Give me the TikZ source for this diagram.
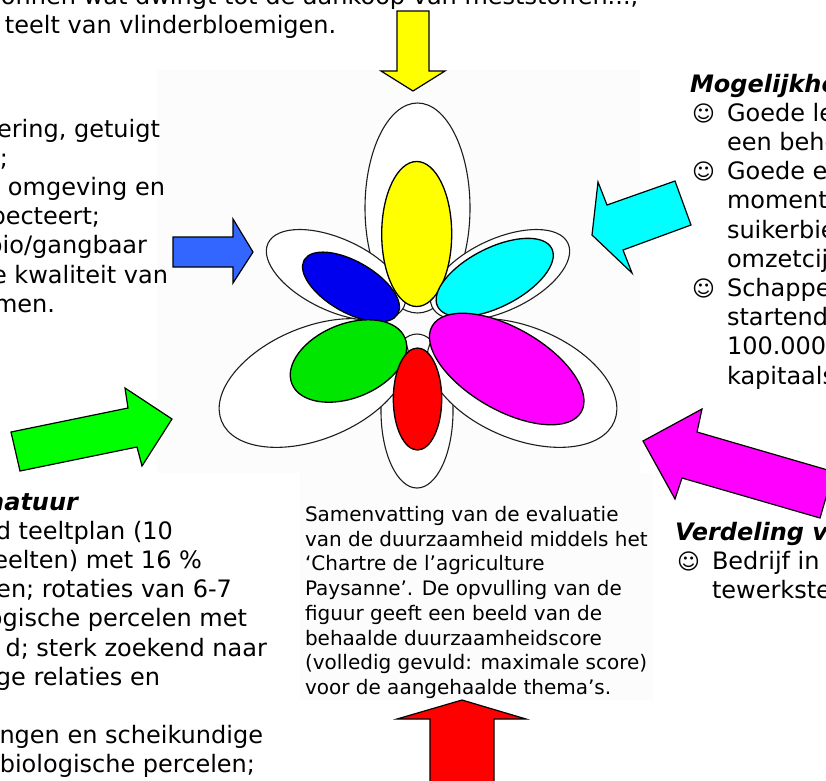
\documentclass[tikz,border=0pt]{standalone}
\usepackage{fontspec}
\setmainfont{DejaVu Sans}
\definecolor{bluearrow}{RGB}{51,102,255}
\definecolor{bluepetal}{RGB}{0,0,238}
\definecolor{greenpetal}{RGB}{0,230,0}
\definecolor{greenarrow}{RGB}{0,255,0}
\definecolor{yellowp}{RGB}{255,255,0}
\definecolor{cyanp}{RGB}{0,255,255}
\definecolor{magentap}{RGB}{255,0,255}
\definecolor{redp}{RGB}{255,0,0}
\definecolor{faint}{RGB}{252,252,252}
\definecolor{outline}{RGB}{30,30,30}
\begin{document}
\begin{tikzpicture}[x=1pt,y=-1pt,
  outer/.style={draw=outline,line width=1.1pt,fill=white},
  petal/.style={draw=black,line width=1.3pt},
  blockarrow/.style={draw=black,line width=1.2pt,line join=miter},
  txt/.style={inner sep=0pt,outer sep=0pt,font=\fontsize{24}{29.2}\selectfont},
  headtxt/.style={inner sep=0pt,outer sep=0pt,font=\fontsize{24}{29.2}\selectfont\bfseries\itshape},
  captxt/.style={inner sep=0pt,outer sep=0pt,font=\fontsize{20}{24.7}\selectfont},
  smile/.style={inner sep=0pt,outer sep=0pt,font=\fontsize{22}{24}\selectfont}]
\useasboundingbox (0,0) rectangle (826,780);
\clip (0,0) rectangle (826,780);
\fill[white] (0,0) rectangle (826,780);
% faint picture backgrounds
\fill[faint] (157,70) rectangle (640,473);
\fill[faint] (300,473) rectangle (653,700);

% outer (maximum) petals
\draw[outer] (417.5,208) ellipse [x radius=52.5, y radius=105];
\draw[outer] (417,411) ellipse [x radius=36, y radius=77];
\draw[outer, rotate around={22.5:(314,383)}] (314,383) ellipse [x radius=100, y radius=56];
\draw[outer, rotate around={-22.5:(522,383)}] (522,383) ellipse [x radius=100, y radius=56];
\draw[outer, rotate around={-25:(336,275)}] (336,275) ellipse [x radius=75, y radius=36];
\draw[outer, rotate around={25:(500,275)}] (500,275) ellipse [x radius=75, y radius=36];

% filled (achieved) petals
\draw[petal, fill=yellowp] (416.7,234) ellipse [x radius=35, y radius=72.5];
\draw[petal, fill=bluepetal, rotate around={-30:(351,287)}] (351,287) ellipse [x radius=54, y radius=25.5];
\draw[petal, fill=cyanp, rotate around={27:(494.7,277.5)}] (494.7,277.5) ellipse [x radius=64, y radius=29.5];
\draw[petal, fill=greenpetal, rotate around={22:(348.5,361)}] (348.5,361) ellipse [x radius=61, y radius=37];
\draw[petal, fill=magentap, rotate around={-30:(506.7,369)}] (506.7,369) ellipse [x radius=86, y radius=41];
\draw[petal, fill=redp] (417.5,399) ellipse [x radius=24.2, y radius=51];

% block arrows
\draw[blockarrow, fill=yellowp] (397,11) -- (397,71) -- (381,71) -- (413,91) -- (445,71) -- (429,71) -- (429,11) -- cycle;
\draw[blockarrow, fill=redp] (430,790) -- (430,719) -- (397,719) -- (462,700) -- (526,719) -- (494,719) -- (494,790) -- cycle;
\draw[blockarrow, fill=bluearrow] (173,237) -- (233,237) -- (233,219) -- (253,252) -- (233,283) -- (233,267) -- (173,267) -- cycle;
\draw[blockarrow, fill=cyanp] (592,235) -- (598,182) -- (607,205) -- (675,181) -- (691,225) -- (623,250) -- (632,273) -- cycle;
\draw[blockarrow, fill=magentap] (643,441) -- (702,409) -- (697,432) -- (833.5,471.7) -- (820,518) -- (682,478) -- (675,499) -- cycle;
\draw[blockarrow, fill=greenarrow] (11,432) -- (128,408) -- (125,388) -- (172,419) -- (142,466) -- (137,447) -- (20,471) -- cycle;

% top-left text
\node[txt, anchor=base west] (t1) at (1,4) {onnen wat dwingt tot de aankoop van meststoffen...;};
\node[txt, anchor=base west] (t2) at (5,33) {teelt van vlinderbloemigen.};

% left text (cut)
\node[txt, anchor=base east] (l1) at (160,137) {ering, getuigt};
\node[txt, anchor=base east] (l2) at (8,166.2) {;};
\node[txt, anchor=base east] (l3) at (165,195.4) {de omgeving en};
\node[txt, anchor=base east] (l4) at (100,224.6) {respecteert;};
\node[txt, anchor=base east] (l5) at (147,253.8) {bio/gangbaar};
\node[txt, anchor=base east] (l6) at (168,283) {de kwaliteit van};
\node[txt, anchor=base east] (l7) at (55,312.2) {men.};

% bottom-left text (cut)
\node[headtxt, anchor=base east] (b0) at (78,510) {natuur};
\node[txt, anchor=base east] (b1) at (173,539.2) {d teeltplan (10};
\node[txt, anchor=base east] (b2) at (202,568.4) {eelten) met 16 \%};
\node[txt, anchor=base east] (b3) at (232,597.6) {en; rotaties van 6-7};
\node[txt, anchor=base east] (b4) at (247,626.8) {biologische percelen met};
\node[txt, anchor=base east] (b5) at (267,656) {d; sterk zoekend naar};
\node[txt, anchor=base east] (b6) at (160,685.2) {ge relaties en};
\node[txt, anchor=base east] (b7) at (263,743.6) {ingen en scheikundige};
\node[txt, anchor=base east] (b8) at (255,772.8) {biologische percelen;};

% right text (cut)
\node[headtxt, anchor=base west] (r0) at (690,92) {Mogelijkheden};
\node[smile, anchor=base west] (s1) at (692,121.2) {☺};
\node[txt, anchor=base west] (r1) at (727,121.2) {Goede leefbaarheid};
\node[txt, anchor=base west] (r2) at (727,150.4) {een behoorlijk};
\node[smile, anchor=base west] (s2) at (692,179.6) {☺};
\node[txt, anchor=base west] (r3) at (727,179.6) {Goede economische};
\node[txt, anchor=base west] (r4) at (727,208.8) {momenteel};
\node[txt, anchor=base west] (r5) at (727,238) {suikerbieten};
\node[txt, anchor=base west] (r6) at (727,267.2) {omzetcijfer};
\node[smile, anchor=base west] (s3) at (692,296.4) {☺};
\node[txt, anchor=base west] (r7) at (727,296.4) {Schappelijk};
\node[txt, anchor=base west] (r8) at (727,325.6) {startende};
\node[txt, anchor=base west] (r9) at (727,354.8) {100.000 euro};
\node[txt, anchor=base west] (r10) at (727,384) {kapitaalsinbreng};

% bottom-right text (cut)
\node[headtxt, anchor=base west] (v0) at (675,540) {Verdeling van};
\node[smile, anchor=base west] (s4) at (677,569.2) {☺};
\node[txt, anchor=base west] (v1) at (712,569.2) {Bedrijf in};
\node[txt, anchor=base west] (v2) at (712,598.4) {tewerkstelling};

% caption
\node[captxt, anchor=base west] (c1) at (305,521.5) {Samenvatting van de evaluatie};
\node[captxt, anchor=base west] (c2) at (305,546.2) {van de duurzaamheid middels het};
\node[captxt, anchor=base west] (c3) at (305,570.9) {‘Chartre de l’agriculture};
\node[captxt, anchor=base west] (c4) at (305,595.6) {Paysanne’. De opvulling van de};
\node[captxt, anchor=base west] (c5) at (305,620.3) {figuur geeft een beeld van de};
\node[captxt, anchor=base west] (c6) at (305,645) {behaalde duurzaamheidscore};
\node[captxt, anchor=base west] (c7) at (305,669.7) {(volledig gevuld: maximale score)};
\node[captxt, anchor=base west] (c8) at (305,694.4) {voor de aangehaalde thema’s.};
\end{tikzpicture}
\end{document}
